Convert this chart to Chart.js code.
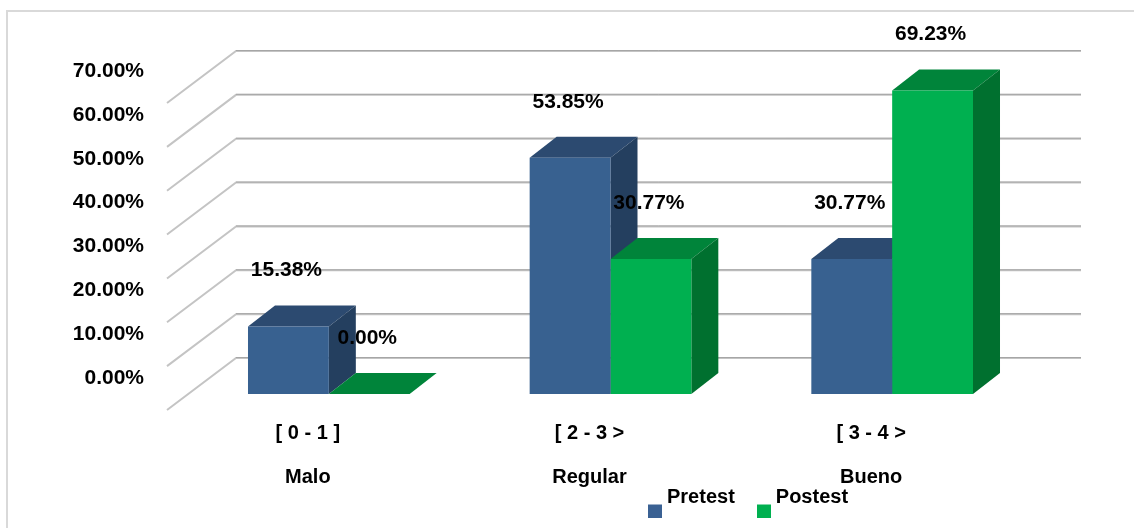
<!DOCTYPE html>
<html lang="es">
<head>
<meta charset="UTF-8">
<title>Pretest - Postest</title>
<script src="https://cdn.jsdelivr.net/npm/chart.js@4.4.0/dist/chart.umd.min.js"></script>
<style>
  body { margin: 0; background: #fff; }
  .wrap { position: relative; width: 1134px; height: 528px; overflow: hidden; }
  .marco { position: absolute; left: 6px; top: 10px; width: 1200px; height: 600px;
           border-left: 2px solid #d9d9d9; border-top: 2px solid #d9d9d9; }
  canvas { position: absolute; left: 0; top: 0; }
</style>
</head>
<body>
<div class="wrap">
  <div class="marco"></div>
  <canvas id="grafico" width="1134" height="528"></canvas>
</div>
<script>
  const rangos = ["[ 0 - 1 ]", "[ 2 - 3 >", "[ 3 - 4 >"];
  const niveles = ["Malo", "Regular", "Bueno"];
  const pretest = [15.38, 53.85, 30.77];
  const postest = [0, 30.77, 69.23];
  const ticksY = [0, 10, 20, 30, 40, 50, 60, 70];

  const FUENTE = "'Liberation Sans', Arial, sans-serif";

  // caras de cada serie: frente, tapa y lateral
  const caras = [
    { frente: "#386190", tapa: "#2c4a70", lado: "#243f5f" },
    { frente: "#00b050", tapa: "#00843a", lado: "#00702f" }
  ];

  // desplazamientos de la perspectiva
  const PROF = { x: 27, y: -21 };   // fondo de cada barra
  const PARED = { x: 48, y: -36 };  // pared del fondo
  const PISO = { x: -21, y: 16 };   // borde delantero del piso

  function muestra(color) {
    const c = document.createElement("canvas");
    c.width = 14; c.height = 41;
    const g = c.getContext("2d");
    g.fillStyle = color;
    g.fillRect(0, 28, 14, 13);
    return c;
  }
  const muestras = [muestra("#3a6193"), muestra("#00b050")];

  function poligono(ctx, pts, color) {
    ctx.beginPath();
    ctx.moveTo(pts[0][0], pts[0][1]);
    for (let i = 1; i < pts.length; i++) ctx.lineTo(pts[i][0], pts[i][1]);
    ctx.closePath();
    ctx.fillStyle = color;
    ctx.fill();
  }

  const barras3d = {
    id: "barras3d",
    afterLayout(chart) {
      const lg = chart.legend;
      lg.left = 626;
      lg.top = 460;
    },
    beforeDatasetsDraw(chart) {
      const ctx = chart.ctx;
      const { left, right } = chart.chartArea;
      const y = chart.scales.y;
      ctx.save();
      // lineas de la pared y del lateral
      y.ticks.forEach(t => {
        const py = y.getPixelForValue(t.value);
        ctx.beginPath();
        ctx.moveTo(left + PISO.x, py + PISO.y);
        ctx.lineTo(left + PARED.x, py + PARED.y);
        ctx.lineTo(right + PARED.x, py + PARED.y);
        ctx.strokeStyle = "#c4c4c4";
        ctx.lineWidth = 2;
        ctx.stroke();
        ctx.beginPath();
        ctx.moveTo(left + PARED.x, py + PARED.y - 0.5);
        ctx.lineTo(right + PARED.x, py + PARED.y - 0.5);
        ctx.strokeStyle = "#a6a6a6";
        ctx.lineWidth = 1;
        ctx.stroke();
      });
      // tapa y lateral de cada barra, categoria por categoria
      const n = chart.data.labels.length;
      for (let i = 0; i < n; i++) {
        chart.data.datasets.forEach((ds, d) => {
          const b = chart.getDatasetMeta(d).data[i];
          const l = b.x - b.width / 2, r = b.x + b.width / 2;
          const top = b.y, bot = b.base;
          poligono(ctx, [[l, top], [l + PROF.x, top + PROF.y], [r + PROF.x, top + PROF.y], [r, top]], caras[d].tapa);
          poligono(ctx, [[r, top], [r + PROF.x, top + PROF.y], [r + PROF.x, bot + PROF.y], [r, bot]], caras[d].lado);
        });
      }
      ctx.restore();
    },
    afterDatasetsDraw(chart) {
      const ctx = chart.ctx;
      ctx.save();
      ctx.font = "bold 21px " + FUENTE;
      ctx.fillStyle = "#000";
      ctx.textAlign = "center";
      ctx.textBaseline = "middle";
      chart.data.datasets.forEach((ds, d) => {
        chart.getDatasetMeta(d).data.forEach((b, i) => {
          ctx.fillText(ds.data[i].toFixed(2) + "%", b.x - 2, b.y - 56);
        });
      });
      ctx.restore();
    }
  };

  new Chart(document.getElementById("grafico"), {
    type: "bar",
    data: {
      labels: rangos.map((r, i) => [r, niveles[i]]),
      datasets: [
        { label: "Pretest", data: pretest, backgroundColor: caras[0].frente },
        { label: "Postest", data: postest, backgroundColor: caras[1].frente }
      ]
    },
    options: {
      responsive: false,
      animation: false,
      events: [],
      categoryPercentage: 0.574,
      barPercentage: 1,
      layout: { padding: { left: 38, right: 101, top: 87, bottom: 4 } },
      scales: {
        x: {
          grid: { display: false, drawTicks: false },
          border: { display: false },
          afterFit(s) { s.height = 100; },
          ticks: {
            color: "#000",
            padding: 17,
            labelOffset: -21,
            font: { family: FUENTE, size: 20, weight: "bold", lineHeight: "44px" }
          }
        },
        y: {
          min: 0,
          max: 70,
          grid: { display: false, drawTicks: false },
          border: { display: false },
          afterFit(s) { s.width = 150; },
          afterBuildTicks(s) { s.ticks = ticksY.map(v => ({ value: v })); },
          ticks: {
            color: "#000",
            padding: 44,
            labelOffset: -16,
            font: { family: FUENTE, size: 21, weight: "bold" },
            callback: v => v.toFixed(2) + "%"
          }
        }
      },
      plugins: {
        tooltip: { enabled: false },
        legend: {
          position: "bottom",
          align: "start",
          maxHeight: 30,
          labels: {
            color: "#000",
            padding: 27,
            usePointStyle: true,
            pointStyleWidth: 4,
            font: { family: FUENTE, size: 20, weight: "bold" },
            generateLabels(chart) {
              const items = Chart.defaults.plugins.legend.labels.generateLabels(chart);
              items.forEach(it => { it.pointStyle = muestras[it.datasetIndex]; });
              return items;
            }
          }
        }
      }
    },
    plugins: [barras3d]
  });
</script>
</body>
</html>
